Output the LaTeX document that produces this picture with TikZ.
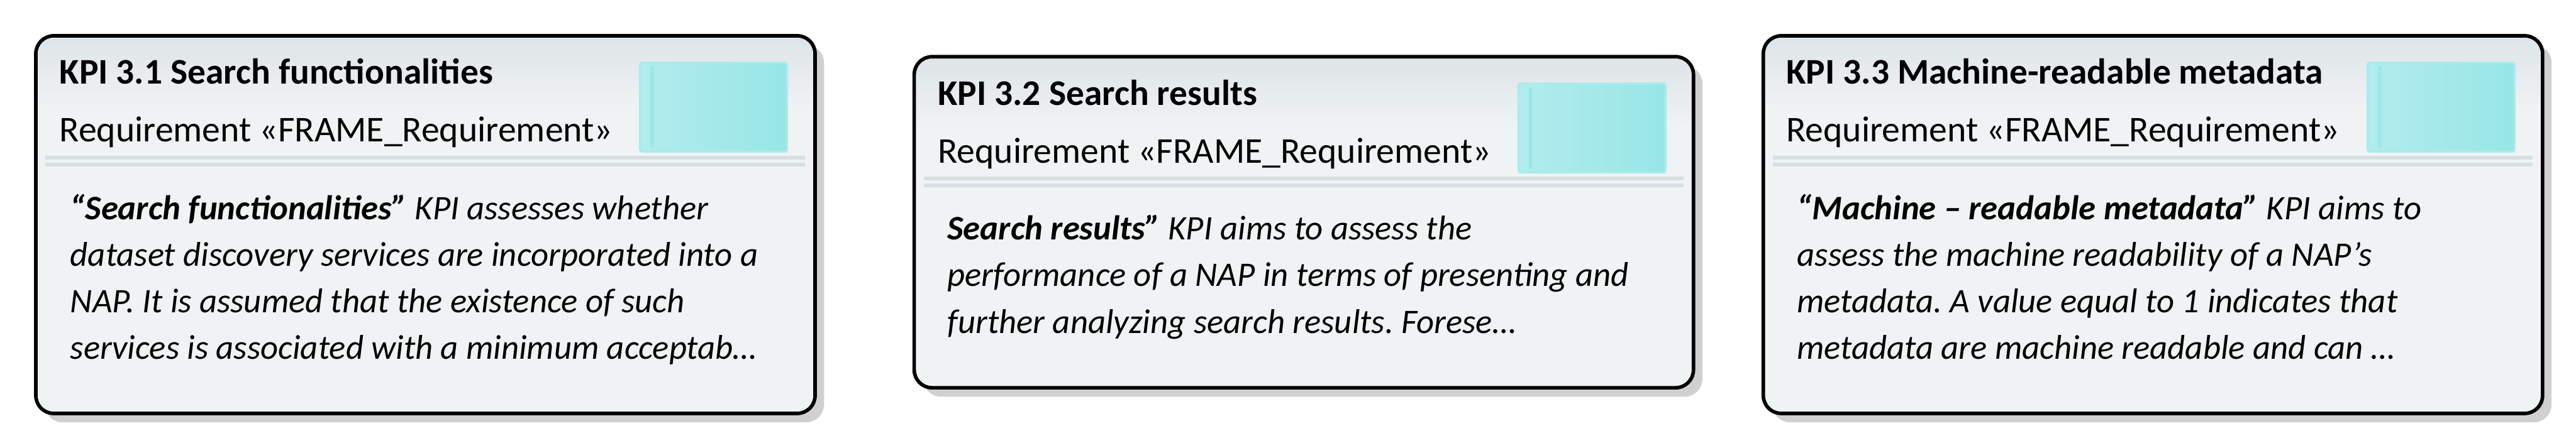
\documentclass[tikz,border=0pt]{standalone}
\usepackage{fontspec}
\setmainfont{Carlito}
\usetikzlibrary{positioning}
\frenchspacing

\definecolor{kpibg}{RGB}{240,243,244}
\definecolor{kpihead}{RGB}{222,228,231}
\definecolor{kpisep}{RGB}{216,223,226}
\definecolor{kpishadow}{RGB}{208,208,208}
\definecolor{kpicyanL}{RGB}{178,236,238}
\definecolor{kpicyanR}{RGB}{152,230,230}
\definecolor{kpicyanB}{RGB}{168,236,234}

\begin{document}
\begin{tikzpicture}[
    kpibox/.style={draw=black, line width=1.7pt, rounded corners=.3cm},
    shadowbox/.style={fill=kpishadow, rounded corners=.3cm},
    sepline/.style={kpisep, line width=.06cm},
    stereo/.style={left color=kpicyanL, right color=kpicyanR, draw=kpicyanB, line width=1pt, rounded corners=1pt},
    kpititle/.style={anchor=base west, inner sep=0pt, font=\fontsize{17.2}{20}\selectfont\bfseries},
    kpitype/.style={anchor=base west, inner sep=0pt, font=\fontsize{17.3}{20}\selectfont},
    kpitext/.style={anchor=north west, inner sep=0pt, align=left, font=\fontsize{16.4}{22.2}\selectfont\itshape}]
    \useasboundingbox (0,0) rectangle (43.14,7.5);
    % frames: number / left / top / bottom
    \foreach \n/\l/\t/\b in {1/.60/6.90/.57, 2/15.31/6.55/1.00, 3/29.53/6.90/.57} {
      \pgfmathsetmacro\r{\l+13.05}
      \coordinate (k\n) at (\l,\t);
      \fill[shadowbox] (\l+.15,\b-.15) rectangle (\r+.15,\t-.15);
      \fill[kpibg, rounded corners=.3cm] (\l,\b) rectangle (\r,\t);
      \shade[top color=kpihead, bottom color=kpibg, rounded corners=.27cm] (\l+.03,\t-1.25) rectangle (\r-.03,\t-.03);
      \draw[sepline] (\l+.16,\t-2.04) -- (\r-.17,\t-2.04);
      \draw[sepline] (\l+.16,\t-2.16) -- (\r-.17,\t-2.16);
      \draw[stereo] (\r-2.93,\t-1.94) rectangle (\r-.47,\t-.45);
      \fill[kpicyanR!80!kpicyanL] (\r-2.76,\t-1.88) rectangle (\r-2.70,\t-.51);
      \draw[kpibox] (\l,\b) rectangle (\r,\t);
    }
    \node[kpititle] (k1title) at ([shift={(.39,-.81)}]k1) {KPI 3.1 Search functionalities};
    \node[kpitype] (k1type) at ([shift={(.39,-1.78)}]k1) {Requirement «FRAME\_Requirement»};
    \node[kpitext] (k1text) at ([shift={(.57,-2.65)}]k1) {{\bfseries “Search functionalities”} KPI assesses whether\\
      dataset discovery services are incorporated into a\\
      NAP. It is assumed that the existence of such\\
      services is associated with a minimum acceptab…};
    \node[kpititle] (k2title) at ([shift={(.39,-.81)}]k2) {KPI 3.2 Search results};
    \node[kpitype] (k2type) at ([shift={(.39,-1.78)}]k2) {Requirement «FRAME\_Requirement»};
    \node[kpitext] (k2text) at ([shift={(.55,-2.65)}]k2) {{\bfseries Search results”} KPI aims to assess the\\
      performance of a NAP in terms of presenting and\\
      further analyzing search results. Forese…};
    \node[kpititle] (k3title) at ([shift={(.38,-.81)}]k3) {KPI 3.3 Machine-readable metadata};
    \node[kpitype] (k3type) at ([shift={(.38,-1.78)}]k3) {Requirement «FRAME\_Requirement»};
    \node[kpitext] (k3text) at ([shift={(.56,-2.65)}]k3) {{\bfseries “Machine – readable metadata”} KPI aims to\\
      assess the machine readability of a NAP’s\\
      metadata. A value equal to 1 indicates that\\
      metadata are machine readable and can …};
\end{tikzpicture}
\end{document}
